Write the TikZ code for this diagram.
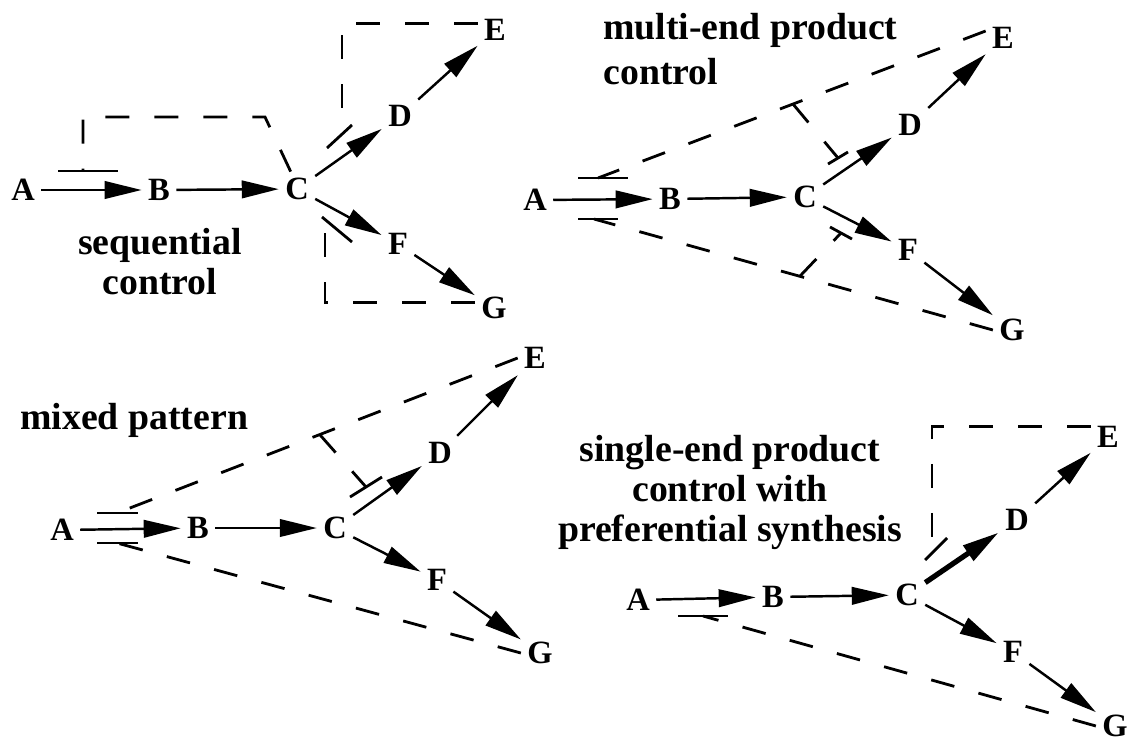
\documentclass[tikz,border=0pt]{standalone}
\usepackage{fontspec}
\setmainfont{Liberation Serif}
\usetikzlibrary{arrows.meta,calc}

\newcommand{\lblfont}[1]{\fontsize{21.5}{#1}\selectfont\bfseries}
\tikzset{
  met/.style={font=\fontsize{18.5}{20}\selectfont\bfseries,inner sep=3.5pt},
  lbl/.style={inner sep=0pt,align=#1},
  lbl/.default=center,
  rxn/.style={line width=1.4pt,-{Triangle[length=7.4mm,width=3.5mm]}},
  ctl/.style={line width=1.6pt,dash pattern=on 0.48cm off 0.5cm},
  inh/.style={line width=1.6pt}
}

\begin{document}
\begin{tikzpicture}[x=0.02cm,y=-0.02cm]
\useasboundingbox (0,0) rectangle (1132,744);
\foreach \n/\l/\x/\y in {a1/A/23/190,b1/B/159/190,c1/C/297/189,d1/D/400/116,e1/E/495/30,f1/F/398/244,g1/G/494/308,
  a2/A/535/200,b2/B/670/199,c2/C/805/197,d2/D/910/125,e2/E/1003/38,f2/F/908/250,g2/G/1012/330,
  a3/A/62/530,b3/B/198/528,c3/C/335/528,d3/D/440/453,e3/E/535/358,f3/F/437/580,g3/G/540/653,
  a4/A/638/600,b4/B/773/597,c4/C/907/595,d4/D/1017/520,e4/E/1108/437,f4/F/1013/652,g4/G/1115/726}
  \node[met] (\n) at (\x,\y) {\l};

\foreach \p in {1,...,4}
  \foreach \s/\t in {a/b,b/c,d/e,c/f,f/g}
    \draw[rxn] (\s\p) -- (\t\p);
\foreach \p in {1,2,3}
  \draw[rxn] (c\p) -- (d\p);
\draw[rxn,line width=3pt] (c4) -- (d4);

\node[lbl,font=\lblfont{22.5pt},anchor=north] (seq) at (160,228) {sequential\\control};
\node[lbl=left,font=\lblfont{25.5pt},anchor=north west] (multi) at (603,13) {multi-end product\\control};
\node[lbl,font=\lblfont{22pt},anchor=north west] (mixed) at (20,403) {mixed pattern};
\node[lbl,font=\lblfont{22.7pt},anchor=north] (single) at (730,435) {single-end product\\control with\\preferential synthesis};

\coordinate (h1) at (265,117);
\coordinate (ab1) at (83,171);
\coordinate (ub1) at (342,134);
\coordinate (lb1) at (325,222);
\draw[ctl] (c1.110) -- (h1) -| (ab1);
\draw[ctl] ([yshift=3.5pt]e1.west) -| (ub1);
\draw[ctl] ([yshift=3pt]g1.west) -| (lb1);
\draw[inh] (ab1) ++(-25,0) -- ++(60,0);
\draw[inh] (ub1) ++(-15,14) -- ++(25,-23);
\draw[inh] (lb1) ++(-3,-5) -- ++(30,25);

\coordinate (ab2) at (598,178);
\coordinate (bb2) at (594,219);
\coordinate (ub2) at (838,158);
\coordinate (lb2) at (841,233);
\coordinate (h2) at ($([yshift=4pt]e2.west)!0.497!(ab2)$);
\coordinate (k2) at ($(g2.west)!0.484!(bb2)$);
\draw[ctl] ([yshift=4pt]e2.west) -- (ab2);
\draw[ctl] (g2.west) -- (bb2);
\draw[ctl] (h2) -- (ub2);
\draw[ctl] (k2) -- (lb2);
\draw[inh] (ab2) ++(-20,0) -- ++(50,0);
\draw[inh] (bb2) ++(-16,0) -- ++(40,0);
\draw[inh] (ub2) ++(-10,6) -- ++(20,-12);
\draw[inh] (lb2) ++(-11,-6) -- ++(22,12);

\coordinate (ab3) at (117,513);
\coordinate (bb3) at (117,543);
\coordinate (ub3) at (366,487);
\coordinate (h3) at ($(e3.west)!0.494!(ab3)$);
\draw[ctl] (e3.west) -- (ab3);
\draw[ctl] (g3.west) -- (bb3);
\draw[ctl] (h3) -- (ub3);
\draw[inh] (ab3) ++(-20,0) -- ++(41,0);
\draw[inh] (bb3) ++(-20,0) -- ++(41,0);
\draw[inh] (ub3) ++(-16,10) -- ++(32,-20);

\coordinate (ub4) at (932,553);
\coordinate (bb4) at (703,616);
\draw[ctl] ([yshift=6pt]e4.west) -| (ub4);
\draw[ctl] (g4.west) -- (bb4);
\draw[inh] (ub4) ++(-7,7) -- ++(22,-22);
\draw[inh] (bb4) ++(-25,0) -- ++(50,0);
\end{tikzpicture}
\end{document}
